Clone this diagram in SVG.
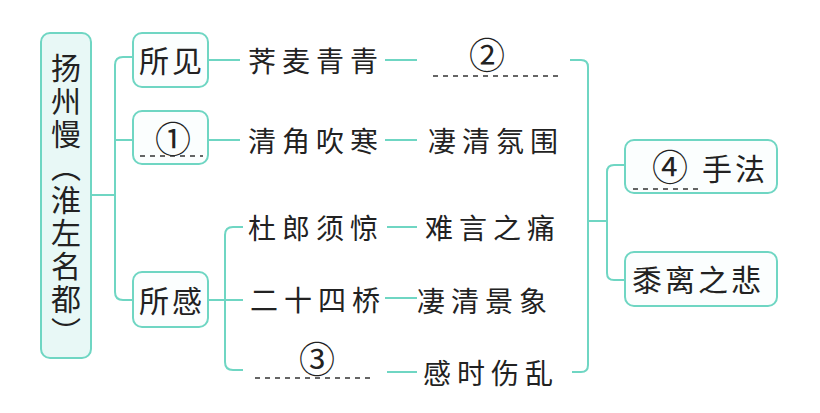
<svg xmlns="http://www.w3.org/2000/svg" width="820" height="413" viewBox="0 0 820 413">
<style>
.bx{fill:#fbfefe;stroke:#6fd6c3;stroke-width:2}
.tb{fill:#e8f8f6;stroke:#6fd6c3;stroke-width:2}
.ln{fill:none;stroke:#6fd6c3;stroke-width:2}
.dash{fill:none;stroke:#333;stroke-width:1.5;stroke-dasharray:5 5}
text{font-family:"Noto Sans CJK SC","Noto Sans CJK JP",sans-serif;fill:#222;dominant-baseline:central}
.t28{font-size:28px;letter-spacing:6px}
.t30{font-size:30px;letter-spacing:3px}
.tt{font-size:30px;letter-spacing:3px;writing-mode:vertical-rl;dominant-baseline:auto}
.num{font-size:36px;text-anchor:middle}
</style>
<rect width="820" height="413" fill="#ffffff"/>
<g id="connectors">
  <path class="ln" d="M91 195 H115"/>
  <path class="ln" d="M133 57 H123 Q115 57 115 65 V292 Q115 300 123 300 H133"/>
  <path class="ln" d="M115 140 H133"/>
  <path class="ln" d="M208 60 H240"/>
  <path class="ln" d="M208 140 H240"/>
  <path class="ln" d="M385 60 H417"/>
  <path class="ln" d="M385 140 H417"/>
  <path class="ln" d="M208 300 H243"/>
  <path class="ln" d="M243 227 H233 Q225 227 225 235 V362 Q225 370 233 370 H243"/>
  <path class="ln" d="M387 227 H417"/>
  <path class="ln" d="M385 298 H417"/>
  <path class="ln" d="M387 372 H417"/>
  <path class="ln" d="M570 60 H581 Q588 60 588 67 V365 Q588 372 581 372 H572"/>
  <path class="ln" d="M588 221 H607"/>
  <path class="ln" d="M625 165 H614 Q607 165 607 172 V273 Q607 280 614 280 H625"/>
</g>
<g id="title">
  <rect class="tb" x="41" y="33" width="50" height="325" rx="9"/>
  <text class="tt" x="66" y="53">扬州慢（淮左名都）</text>
</g>
<g id="suojian">
  <rect class="bx" x="133" y="33" width="75" height="54" rx="9"/>
  <text class="t30" x="139" y="59">所见</text>
</g>
<g id="blank1">
  <rect class="bx" x="133" y="111" width="75" height="53" rx="9"/>
  <text class="num" x="173" y="137">①</text>
  <path class="dash" d="M140 156 H203"/>
</g>
<g id="suogan">
  <rect class="bx" x="133" y="272" width="75" height="55" rx="9"/>
  <text class="t30" x="139" y="299">所感</text>
</g>
<g id="n1"><text class="t28" x="248" y="60">荠麦青青</text></g>
<g id="blank2">
  <text class="num" x="487" y="53">②</text>
  <path class="dash" d="M433 76 H561"/>
</g>
<g id="n2"><text class="t28" x="248" y="140">清角吹寒</text></g>
<g id="n3"><text class="t28" x="428" y="140">凄清氛围</text></g>
<g id="n4"><text class="t28" x="248" y="227">杜郎须惊</text></g>
<g id="n5"><text class="t28" x="425" y="227">难言之痛</text></g>
<g id="n6"><text class="t28" x="250" y="299">二十四桥</text></g>
<g id="n7"><text class="t28" x="417" y="300">凄清景象</text></g>
<g id="blank3">
  <text class="num" x="317" y="357">③</text>
  <path class="dash" d="M255 378 H374"/>
</g>
<g id="n8"><text class="t28" x="423" y="372">感时伤乱</text></g>
<g id="shoufa">
  <rect class="bx" x="625" y="140" width="152" height="53" rx="9"/>
  <text class="num" x="670" y="165">④</text>
  <text class="t30" x="702" y="167">手法</text>
  <path class="dash" d="M633 189 H698"/>
</g>
<g id="shulizhibei">
  <rect class="bx" x="625" y="252" width="152" height="54" rx="9"/>
  <text class="t30" x="632" y="278">黍离之悲</text>
</g>
</svg>
